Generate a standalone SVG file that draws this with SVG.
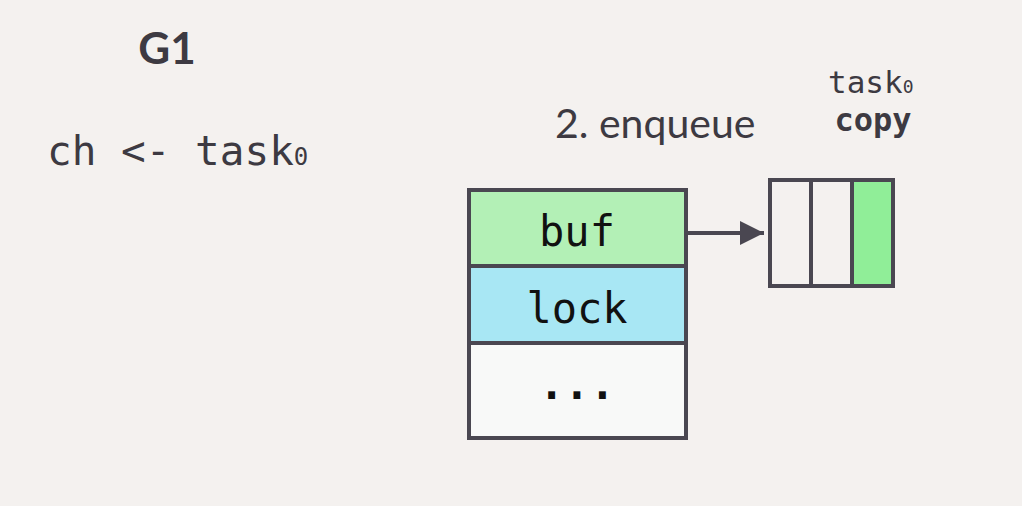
<svg xmlns="http://www.w3.org/2000/svg" width="1022" height="506" viewBox="0 0 1022 506">
<defs>
<style>
.lbl{fill:#3d3a42;}
.mono{font-family:"DejaVu Sans Mono","Liberation Mono",monospace;}
.sans{font-family:"Lato","Open Sans","Noto Sans",sans-serif;}
.cell{stroke:#4a4751;stroke-width:4;}
.field{font-family:"DejaVu Sans Mono","Liberation Mono",monospace;font-size:42px;fill:#111;text-anchor:middle;}
</style>
<marker id="ah" viewBox="0 0 10 10" refX="10" refY="5" markerWidth="6" markerHeight="6" markerUnits="strokeWidth" orient="auto">
<path d="M0,0 L10,5 L0,10 z" fill="#4a4751"/>
</marker>
</defs>
<rect width="1022" height="506" fill="#f4f1ef"/>
<g id="g1-label">
<text x="167" y="64" class="lbl sans" font-size="44" font-weight="bold" text-anchor="middle">G1</text>
</g>
<g id="code">
<text x="47" y="165" class="lbl mono" font-size="41">ch &lt;- task<tspan font-size="24">0</tspan></text>
</g>
<g id="enqueue-label">
<text x="555" y="138" class="lbl sans" font-size="41">2. enqueue</text>
</g>
<g id="copy-label">
<text x="828" y="93" class="lbl mono" font-size="31">task<tspan font-size="18">0</tspan></text>
<text x="873" y="131" class="lbl mono" font-size="32" font-weight="bold" text-anchor="middle">copy</text>
</g>
<g id="hchan">
<rect x="469" y="190" width="217" height="76" fill="#b3f0b6" class="cell"/>
<rect x="469" y="266" width="217" height="77" fill="#a8e7f4" class="cell"/>
<rect x="469" y="343" width="217" height="95" fill="#f8f9f8" class="cell"/>
<text x="577" y="246" class="field">buf</text>
<text x="577" y="323" class="field">lock</text>
<text x="577" y="399" class="field" font-weight="bold">...</text>
</g>
<g id="queue">
<rect x="770" y="180" width="41" height="106" fill="#f4f1ef" class="cell"/>
<rect x="811" y="180" width="41" height="106" fill="#f4f1ef" class="cell"/>
<rect x="852" y="180" width="41" height="106" fill="#90ee98" class="cell"/>
</g>
<g id="connectors">
<line x1="688" y1="233" x2="764" y2="233" stroke="#4a4751" stroke-width="4" marker-end="url(#ah)"/>
</g>
</svg>
